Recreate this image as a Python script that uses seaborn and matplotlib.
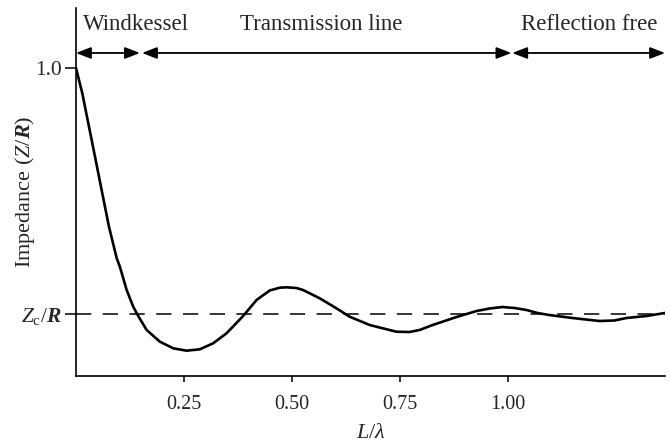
import matplotlib
matplotlib.use("Agg")
import matplotlib.pyplot as plt
import seaborn as sns
import pandas as pd

# ---- data ----
L_over_lambda = [0.0, 0.0146, 0.0301, 0.0456, 0.0609, 0.0764, 0.0942, 0.1019, 0.1174,
                 0.1326, 0.1442, 0.1637, 0.1944, 0.2252, 0.2563, 0.287, 0.3178, 0.3488,
                 0.3873, 0.4183, 0.4491, 0.4722, 0.4877, 0.5109, 0.5262, 0.5648, 0.6035,
                 0.6343, 0.6806, 0.7424, 0.7731, 0.7963, 0.8264, 0.854, 0.8819, 0.9282,
                 0.9583, 0.9884, 1.0162, 1.044, 1.0694, 1.0972, 1.1505, 1.213, 1.2477,
                 1.2755, 1.3218, 1.365]
impedance = [1.0, 0.928, 0.833, 0.7382, 0.6435, 0.5484, 0.4594, 0.4337, 0.3683,
             0.3208, 0.2943, 0.2545, 0.2212, 0.2024, 0.1956, 0.1996, 0.2166, 0.2451,
             0.2943, 0.3398, 0.367, 0.3749, 0.376, 0.374, 0.3683, 0.3447, 0.3162,
             0.2923, 0.2687, 0.2496, 0.2488, 0.2545, 0.2687, 0.28, 0.2915, 0.3085,
             0.3157, 0.3199, 0.3171, 0.3114, 0.3029, 0.2971, 0.2886, 0.2801, 0.2815,
             0.2886, 0.2943, 0.3029]
zc_level = 0.3
x_ticks = [0.25, 0.50, 0.75, 1.00]
x_tick_labels = ["0.25", "0.50", "0.75", "1.00"]
y_ticks = [zc_level, 1.0]
y_tick_labels = [r"$Z_{\mathrm{c}}/\mathbfit{R}$", "1.0"]
region_names = ["Windkessel", "Transmission line", "Reflection free"]
region_starts = [0.0, 0.153, 1.011]
region_ends = [0.148, 1.009, 1.365]

df = pd.DataFrame({"L": L_over_lambda, "Z": impedance})

sns.set_style("ticks")
plt.rcParams["font.family"] = ["Liberation Serif", "DejaVu Serif"]
plt.rcParams["mathtext.fontset"] = "custom"
plt.rcParams["mathtext.rm"] = "Liberation Serif"
plt.rcParams["mathtext.it"] = "Liberation Serif:italic"
plt.rcParams["mathtext.bf"] = "Liberation Serif:bold"
plt.rcParams["mathtext.bfit"] = "Liberation Serif:bold:italic"

fig = plt.figure(figsize=(6.7, 4.46), dpi=100)
ax = fig.add_axes([76 / 670, 70 / 446, 589 / 670, 368 / 446])

sns.lineplot(data=df, x="L", y="Z", sort=False, color="black", lw=1.9, ax=ax,
             solid_joinstyle="round", solid_capstyle="round")
ax.axhline(zc_level, color="black", lw=1.1, linestyle=(0, (10, 7.5)))

ax.set_xlim(0, 1.365)
ax.set_ylim(0.1236, 1.1707)

ax.set_xticks(x_ticks)
ax.set_xticklabels(x_tick_labels, fontsize=14.5)
ax.set_yticks(y_ticks)
ax.set_yticklabels(y_tick_labels, fontsize=15.5)
ax.tick_params(axis="x", direction="out", length=4, width=1.1, color="black", pad=10)
ax.tick_params(axis="y", direction="out", length=8, width=1.1, color="black", pad=2)

for s in ["top", "right"]:
    ax.spines[s].set_visible(False)
for s in ["left", "bottom"]:
    ax.spines[s].set_linewidth(1.2)
    ax.spines[s].set_color("black")

ax.set_xlabel(r"$L/\lambda$", fontsize=16, labelpad=7)
ax.set_ylabel(r"Impedance ($Z/\mathbfit{R}$)", fontsize=16)
ax.yaxis.set_label_coords(-0.066, 0.5)

arrow_y = 1.0427
text_y = 1.1224
for name, x0, x1 in zip(region_names, region_starts, region_ends):
    ax.annotate("", xy=(x1, arrow_y), xytext=(x0, arrow_y),
                arrowprops=dict(arrowstyle="<|-|>,head_length=0.9,head_width=0.35",
                                lw=1.3, color="black", shrinkA=0, shrinkB=0,
                                mutation_scale=10),
                annotation_clip=False)

ax.text(0.016, text_y, region_names[0], fontsize=16.5, ha="left", va="center")
ax.text(0.569, text_y, region_names[1], fontsize=16.5, ha="center", va="center")
ax.text(1.19, text_y, region_names[2], fontsize=16.5, ha="center", va="center")

fig.savefig("out.png", dpi=100)
